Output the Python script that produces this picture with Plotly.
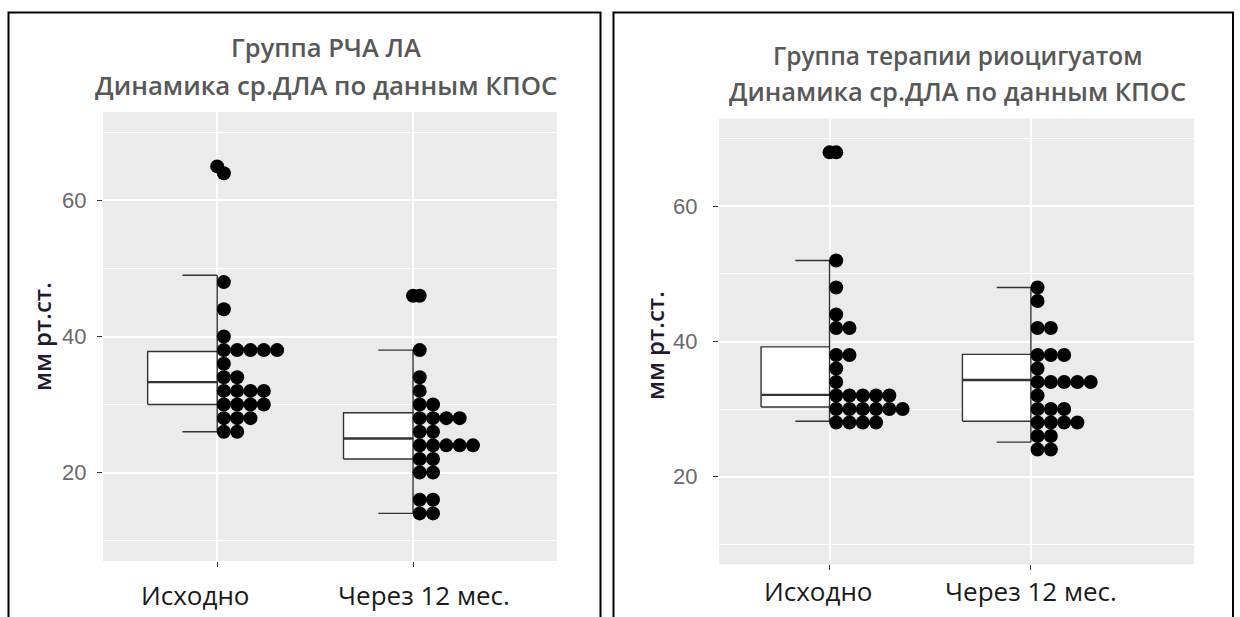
import plotly.graph_objects as go

# ---------------- data ----------------
categories = ["Исходно", "Через 12 мес."]
titles_left = ["Группа РЧА ЛА", "Динамика ср.ДЛА по данным КПОС"]
titles_right = ["Группа терапии риоцигуатом", "Динамика ср.ДЛА по данным КПОС"]
y_title = "мм рт.ст."
y_ticks = [20, 40, 60]

# dot-plot values (bin centres), group "РЧА ЛА"
rfa_baseline = [64, 48, 44, 40, 38, 38, 38, 38, 38, 36, 34, 34, 32, 32, 32, 32,
                30, 30, 30, 30, 28, 28, 28, 26, 26]
rfa_12m = [46, 38, 34, 32, 30, 30, 28, 28, 28, 28, 26, 26, 24, 24, 24, 24, 24,
           22, 22, 20, 20, 16, 16, 14, 14]
# dot-plot values, group "риоцигуат"
rio_baseline = [68, 52, 48, 44, 42, 42, 38, 38, 36, 34, 32, 32, 32, 32, 32,
                30, 30, 30, 30, 30, 30, 28, 28, 28, 28]
rio_12m = [48, 46, 42, 42, 38, 38, 38, 36, 34, 34, 34, 34, 34, 32, 30, 30, 30,
           28, 28, 28, 28, 26, 26, 24, 24]

# box statistics: lower whisker, Q1, median, Q3, upper whisker
rfa_box_baseline = [26, 30, 33.3, 37.8, 49]
rfa_box_12m = [14, 22, 25, 28.8, 38]
rio_box_baseline = [28.2, 30.3, 32.1, 39.2, 52]
rio_box_12m = [25.1, 28.2, 34.3, 38.1, 48]

# boxplot outliers
rfa_outliers_baseline = [65]
rfa_outliers_12m = [46]
rio_outliers_baseline = [68]
rio_outliers_12m = []

# ---------------- helpers ----------------
W, H = 1240, 617
BOX_LINE = "#333333"


def px_x(p):
    return p / W


def px_y(p):
    return 1 - p / H


def half_box(stats, pos, half_w, xa, ya):
    lo, q1, med, q3, hi = stats
    cap = half_w / 2
    traces = []
    traces.append(go.Scatter(
        x=[pos - half_w, pos, pos, pos - half_w, pos - half_w],
        y=[q1, q1, q3, q3, q1], mode="lines", fill="toself",
        fillcolor="white", line=dict(color=BOX_LINE, width=1.4),
        xaxis=xa, yaxis=ya, hoverinfo="skip", showlegend=False))
    traces.append(go.Scatter(
        x=[pos, pos, None, pos - cap, pos, None, pos, pos, None, pos - cap, pos],
        y=[q3, hi, None, hi, hi, None, q1, lo, None, lo, lo],
        mode="lines", line=dict(color=BOX_LINE, width=1.4),
        xaxis=xa, yaxis=ya, hoverinfo="skip", showlegend=False))
    traces.append(go.Scatter(
        x=[pos - half_w, pos], y=[med, med], mode="lines",
        line=dict(color=BOX_LINE, width=2.4),
        xaxis=xa, yaxis=ya, hoverinfo="skip", showlegend=False))
    return traces


def dots(values, pos, step, xa, ya):
    seen = {}
    xs, ys = [], []
    for v in values:
        k = seen.get(v, 0)
        seen[v] = k + 1
        xs.append(pos + (k + 0.5) * step)
        ys.append(v)
    return go.Scatter(x=xs, y=ys, mode="markers",
                      marker=dict(color="black", size=14, line=dict(width=0)),
                      xaxis=xa, yaxis=ya, hoverinfo="skip", showlegend=False)


def outliers(values, pos, xa, ya):
    return go.Scatter(x=[pos] * len(values), y=values, mode="markers",
                      marker=dict(color="black", size=14, line=dict(width=0)),
                      xaxis=xa, yaxis=ya, hoverinfo="skip", showlegend=False)


fig = go.Figure()

panels = [
    ("x", "y", [rfa_box_baseline, rfa_box_12m], [rfa_baseline, rfa_12m],
     [rfa_outliers_baseline, rfa_outliers_12m], 0.355, 0.068),
    ("x2", "y2", [rio_box_baseline, rio_box_12m], [rio_baseline, rio_12m],
     [rio_outliers_baseline, rio_outliers_12m], 0.34, 0.066),
]
for xa, ya, boxes, dotsets, outs, hw, step in panels:
    for i in range(len(categories)):
        pos = i + 1
        for t in half_box(boxes[i], pos, hw, xa, ya):
            fig.add_trace(t)
        fig.add_trace(dots(dotsets[i], pos, step, xa, ya))
        if outs[i]:
            fig.add_trace(outliers(outs[i], pos, xa, ya))

# ---------------- axes ----------------
common_y = dict(range=[7, 73], tickvals=y_ticks, ticks="outside", ticklen=5,
                tickwidth=1.3, tickcolor="#333333", showgrid=True,
                gridcolor="white", gridwidth=2, zeroline=False,
                minor=dict(tickvals=[10, 30, 50, 70], showgrid=True,
                           gridcolor="white", gridwidth=1, ticks=""),
                tickfont=dict(family="Liberation Sans, Arial", size=22,
                              color="#6a6a6a"),
                showline=False, fixedrange=True)
common_x = dict(tickvals=[1, 2], showticklabels=False, ticks="outside",
                ticklen=5, tickwidth=1.3, tickcolor="#333333", showgrid=True,
                gridcolor="white", gridwidth=2, zeroline=False, showline=False,
                fixedrange=True)

fig.update_layout(
    width=W, height=H, margin=dict(l=0, r=0, t=0, b=0),
    paper_bgcolor="white", plot_bgcolor="#EBEBEB", showlegend=False,
    xaxis=dict(domain=[px_x(103), px_x(557)], range=[0.417, 2.735],
               anchor="y", **common_x),
    yaxis=dict(domain=[px_y(561), px_y(112)], anchor="x",
               ticklabelstandoff=6, **common_y),
    xaxis2=dict(domain=[px_x(719), px_x(1194)], range=[0.451, 2.81],
                anchor="y2", **common_x),
    yaxis2=dict(domain=[px_y(564.4), px_y(118.6)], anchor="x2",
                ticklabelstandoff=11, **common_y),
)

# ---------------- text ----------------
ann = []
for txt, cx, cy, sz in [(titles_left[0], 326, 47.4, 25.5),
                        (titles_left[1], 326, 85, 25.8),
                        (titles_right[0], 958, 55.3, 24.5),
                        (titles_right[1], 957, 91, 25.5)]:
    ann.append(dict(text=txt, x=px_x(cx), y=px_y(cy), xref="paper",
                    yref="paper", xanchor="center", yanchor="middle",
                    showarrow=False,
                    font=dict(family="Open Sans", size=sz, color="#585858",
                              weight=600)))

label_font = dict(family="Open Sans", size=26, color="#1a1a1a")
for xa, cy, shifts in [("x", 595, [-21.7, 10.5]), ("x2", 591, [-10.8, 0])]:
    for i, cat in enumerate(categories):
        ann.append(dict(text=cat, x=i + 1, y=px_y(cy), xref=xa, yref="paper",
                        xshift=shifts[i], xanchor="center", yanchor="middle",
                        showarrow=False, font=label_font))

ytitle_font = dict(family="Open Sans", size=24, color="#1e1a30", weight=600)
for cx, cy in [(41, 337), (654, 346)]:
    ann.append(dict(text=y_title, x=px_x(cx), y=px_y(cy), xref="paper",
                    yref="paper", xanchor="center", yanchor="middle",
                    textangle=-90, showarrow=False, font=ytitle_font))
fig.update_layout(annotations=ann)

# panel frames
shapes = []
for x0, x1 in [(8.5, 600.5), (613.5, 1233)]:
    shapes.append(dict(type="path",
                       path=f"M {px_x(x0)},{px_y(640)} L {px_x(x0)},{px_y(12.5)} "
                            f"L {px_x(x1)},{px_y(12.5)} L {px_x(x1)},{px_y(640)}",
                       xref="paper", yref="paper",
                       line=dict(color="black", width=2)))
fig.update_layout(shapes=shapes)

fig.write_html("out.html")
